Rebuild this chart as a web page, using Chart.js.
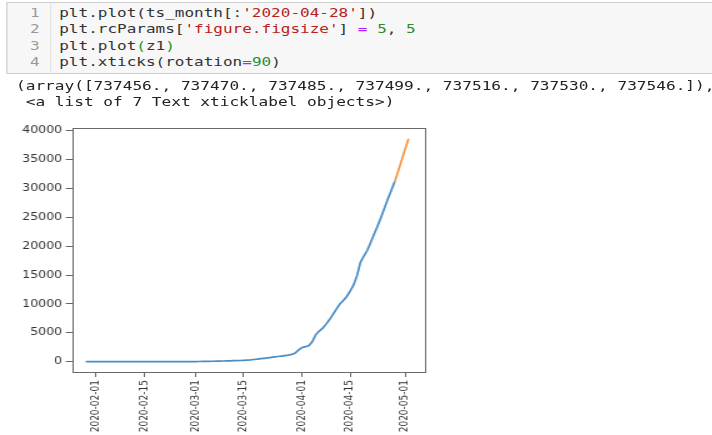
<!DOCTYPE html>
<html>
<head>
<meta charset="utf-8">
<script src="https://cdn.jsdelivr.net/npm/chart.js@4/dist/chart.umd.min.js"></script>
<style>
  html, body { margin: 0; padding: 0; background: #fff; overflow: hidden; }
  #page { position: absolute; left: 0; top: 0; width: 570px; height: 435px;
          transform: scaleX(1.25); transform-origin: 0 0; }
  .cell { position: absolute; left: 4.8px; top: 2px; width: 600px; height: 70px;
          background: #f7f7f7; border: 1px solid #cfcfcf; }
  .gutter { position: absolute; left: 0; top: 0; width: 34px; height: 70px;
            border-right: 1px solid #e4e4e4; }
  .mono { font-family: "DejaVu Sans Mono", "Liberation Mono", monospace; font-size: 12.8px;
          white-space: pre; position: absolute; line-height: 16.4px; }
  .ln { color: #9a9a9a; text-align: right; width: 26px; left: 0; }
  .code { color: #333; left: 41.6px; }
  .s { color: #ba2121; }
  .n { color: #2e8b2e; }
  .o { color: #aa22ff; }
  .m { color: #1d9a1d; }
  .out { color: #222; left: 12.8px; top: 78px; line-height: 16px; font-size: 12.9px; }
  #wrap { position: absolute; left: 0; top: 115px; width: 352px; height: 320px; }
</style>
</head>
<body>
<div id="page">
  <div class="cell">
    <div class="gutter"></div>
    <div class="mono ln" style="top:2px">1
2
3
4</div>
    <div class="mono code" style="top:2px">plt.plot(ts_month[:<span class="s">'2020-04-28'</span>])
plt.rcParams[<span class="s">'figure.figsize'</span>] <span class="o">=</span> <span class="n">5</span>, <span class="n">5</span>
plt.plot<span class="m">(</span>z1<span class="m">)</span>
plt.xticks(rotation<span class="o">=</span><span class="n">90</span>)</div>
  </div>
  <div class="mono out">(array([737456., 737470., 737485., 737499., 737516., 737530., 737546.]),
 &lt;a list of 7 Text xticklabel objects&gt;)</div>
  <div id="wrap"><canvas id="chart" width="352" height="320"></canvas></div>
</div>
<script>
// Daily cumulative series, first day and values
const startDate = '2020-01-29';
const totals = [
  5, 5, 6,
  8, 8, 11, 11, 12, 12, 12, 12, 12, 13, 13, 13, 14, 14, 15, 15, 15, 15, 15, 15, 16, 16, 16, 16, 16, 16, 17, 17, 19,
  25, 30, 40, 50, 60, 75, 90, 105, 120, 135, 150, 170, 190, 210, 240, 280, 320, 380, 440, 520,
  590, 660, 740, 820, 900, 980, 1060, 1150, 1260, 1500, 2050,
  2450, 2600, 2800, 3500, 4700, 5300, 5800, 6500, 7300, 8200, 9100, 10000, 10600, 11300,
  12200, 13300, 14900, 17200, 18300, 19300, 20700, 22100, 23500, 25000, 26600, 28200, 29700, 31200
];
// Forecast continuation (z1)
const forecastDates = ['2020-04-28', '2020-04-29', '2020-04-30', '2020-05-01', '2020-05-02'];
const forecastTotals = [31200, 33000, 34900, 36800, 38600];
// Axis ticks
const xTickLabels = ['2020-02-01', '2020-02-15', '2020-03-01', '2020-03-15', '2020-04-01', '2020-04-15', '2020-05-01'];
const yTickValues = [0, 5000, 10000, 15000, 20000, 25000, 30000, 35000, 40000];

const DAY = 86400000;
const origin = Date.UTC(2020, 1, 1);
function dayNum(s) {
  const [y, m, d] = s.split('-').map(Number);
  return Math.round((Date.UTC(y, m - 1, d) - origin) / DAY);
}
const start = dayNum(startDate);
const actualPts = totals.map((v, i) => ({ x: start + i, y: v }));
const forecastPts = forecastDates.map((d, i) => ({ x: dayNum(d), y: forecastTotals[i] }));

const frame = {
  id: 'frame',
  afterDatasetsDraw(chart) {
    const a = chart.chartArea, ctx = chart.ctx;
    ctx.save();
    ctx.strokeStyle = '#6a6a6a';
    ctx.lineWidth = 1;
    ctx.strokeRect(Math.round(a.left) + 0.5, Math.round(a.top) + 0.5,
                   Math.round(a.right - a.left), Math.round(a.bottom - a.top));
    ctx.restore();
  }
};

new Chart(document.getElementById('chart'), {
  type: 'line',
  data: {
    datasets: [
      { data: actualPts, borderColor: '#4a8cc4', borderWidth: 1.7, pointRadius: 0, tension: 0, order: 1 },
      { data: forecastPts, borderColor: '#f59540', borderWidth: 1.7, pointRadius: 0, tension: 0, order: 0 }
    ]
  },
  options: {
    responsive: false,
    animation: false,
    devicePixelRatio: 1,
    layout: { padding: { top: 13, right: 12, left: 0, bottom: 0 } },
    plugins: { legend: { display: false }, tooltip: { enabled: false } },
    scales: {
      x: {
        type: 'linear',
        min: -7, max: 95.8,
        afterBuildTicks(scale) { scale.ticks = xTickLabels.map(s => ({ value: dayNum(s) })); },
        afterFit(scale) { scale.height = 63; },
        grid: { display: true, drawOnChartArea: false, drawTicks: true, tickLength: 5, color: '#666' },
        border: { display: false },
        ticks: {
          autoSkip: false, minRotation: 90, maxRotation: 90, padding: 3,
          color: '#333', font: { family: 'DejaVu Sans', size: 9 },
          callback(v) { return xTickLabels.find(s => dayNum(s) === v) || ''; }
        }
      },
      y: {
        min: -1784, max: 40468,
        afterBuildTicks(scale) { scale.ticks = yTickValues.map(v => ({ value: v })); },
        afterFit(scale) { scale.width = 57.6; },
        grid: { display: true, drawOnChartArea: false, drawTicks: true, tickLength: 5, color: '#666' },
        border: { display: false },
        ticks: {
          padding: 3, color: '#333', font: { family: 'DejaVu Sans', size: 10 },
          callback(v) { return String(v); }
        }
      }
    }
  },
  plugins: [frame]
});
</script>
</body>
</html>
